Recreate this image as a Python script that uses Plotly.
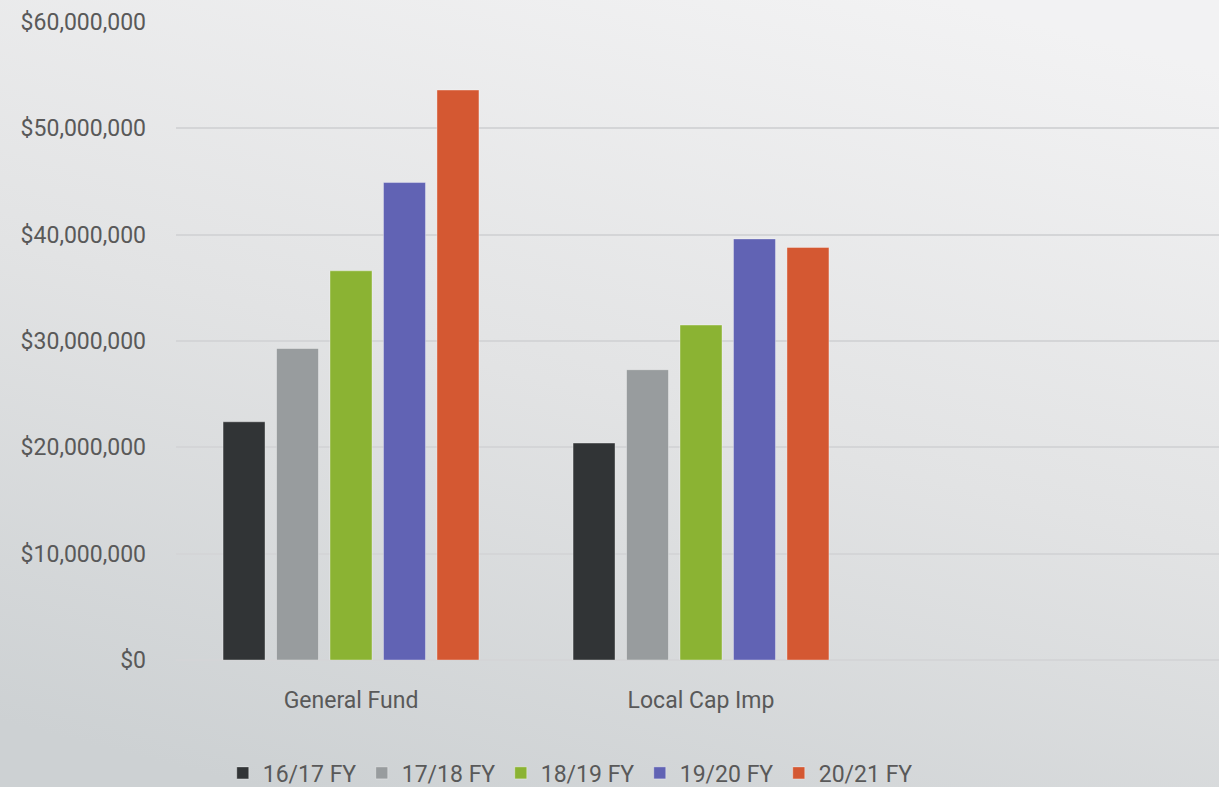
import plotly.graph_objects as go

categories = ["General Fund", "Local Cap Imp"]
series_names = ["16/17 FY", "17/18 FY", "18/19 FY", "19/20 FY", "20/21 FY"]
general_fund = [22.4e6, 29.3e6, 36.6e6, 44.9e6, 53.6e6]
local_cap_imp = [20.4e6, 27.3e6, 31.5e6, 39.6e6, 38.8e6]
colors = ["#313436", "#989c9e", "#8bb333", "#6163b4", "#d45832"]
y_ticks = [0, 10e6, 20e6, 30e6, 40e6, 50e6, 60e6]
y_labels = ["$0", "$10,000,000", "$20,000,000", "$30,000,000", "$40,000,000", "$50,000,000", "$60,000,000"]

FONT = "Roboto, Liberation Sans, sans-serif"

fig = go.Figure()
for i, name in enumerate(series_names):
    fig.add_trace(go.Bar(
        x=categories,
        y=[general_fund[i], local_cap_imp[i]],
        name=name,
        marker=dict(color=colors[i], line=dict(color="rgba(255,255,255,0.35)", width=1)),
    ))

svg = ("data:image/svg+xml;utf8,"
       "<svg xmlns='http://www.w3.org/2000/svg' width='100' height='100' preserveAspectRatio='none'>"
       "<defs><linearGradient id='g' x1='0.3' y1='1' x2='0.7' y2='0'>"
       "<stop offset='0' stop-color='%23cdd1d3'/>"
       "<stop offset='0.5' stop-color='%23e2e3e4'/>"
       "<stop offset='1' stop-color='%23f2f2f3'/>"
       "</linearGradient></defs>"
       "<rect width='100' height='100' fill='url(%23g)'/></svg>")

fig.update_layout(
    width=1219, height=787,
    margin=dict(l=176, r=0, t=22, b=127, autoexpand=False),
    paper_bgcolor="#e2e3e4",
    plot_bgcolor="rgba(0,0,0,0)",
    barmode="group",
    bargap=0.236,
    bargroupgap=0.215,
    font=dict(family=FONT, color="#595959", size=23),
    showlegend=True,
    legend=dict(
        orientation="h", x=0.378, xanchor="center", y=-0.177, yanchor="middle",
        font=dict(size=23, color="#595959"),
        entrywidth=94, entrywidthmode="pixels",
        bgcolor="rgba(0,0,0,0)",
        traceorder="normal",
    ),
    images=[dict(source=svg, xref="paper", yref="paper", x=-0.2, y=1.06,
                 sizex=1.25, sizey=1.3, xanchor="left", yanchor="top",
                 sizing="stretch", layer="below")],
)
fig.update_xaxes(
    type="category",
    categoryorder="array",
    categoryarray=categories + [" "],
    range=[-0.5, 2.48],
    showgrid=False, zeroline=False, showline=False,
    ticks="", ticklabelstandoff=24,
    tickfont=dict(size=23, color="#595959"),
)
fig.update_yaxes(
    range=[0, 60e6],
    tickvals=y_ticks, ticktext=y_labels,
    showgrid=True, gridcolor="#d4d5d7", gridwidth=1.5,
    zeroline=True, zerolinecolor="#d4d5d7", zerolinewidth=1.5,
    showline=False, ticks="", ticklabelstandoff=29,
    tickfont=dict(size=23, color="#595959"),
)

fig.write_html("out.html", config={"displayModeBar": False},
               post_script="document.body.style.margin='0';document.body.style.overflow='hidden';")
